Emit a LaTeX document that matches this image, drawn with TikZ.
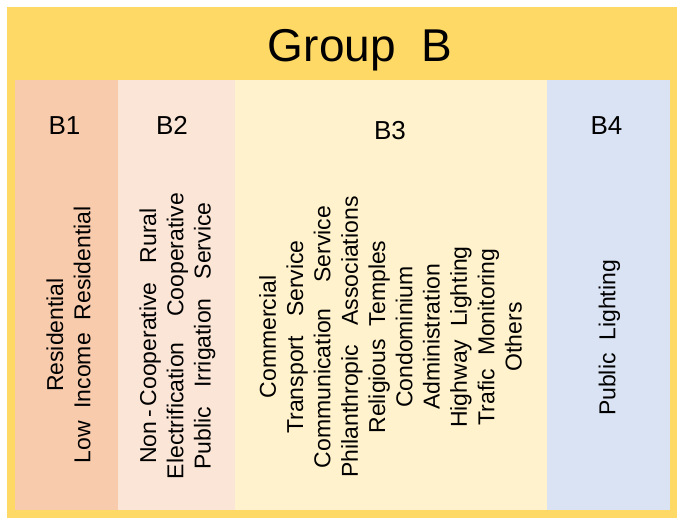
\documentclass[tikz,border=0pt]{standalone}
\usepackage{fontspec}
\setmainfont{Liberation Sans}
\definecolor{groupyellow}{HTML}{FFD966}
\definecolor{bonecol}{HTML}{F8CBAD}
\definecolor{btwocol}{HTML}{FBE5D6}
\definecolor{bthreecol}{HTML}{FFF2CC}
\definecolor{bfourcol}{HTML}{DAE3F3}
\begin{document}
\begin{tikzpicture}[x=1pt,y=-1pt,
        column/.style={inner sep=0pt, minimum height=430pt},
        head/.style={anchor=base, font=\fontsize{26}{30}\selectfont},
        items/.style={rotate=90, align=center, font=\fontsize{23}{27.3}\selectfont}]
        \useasboundingbox (0,0) rectangle (677,518);
        % Nodes
        \node[fill=groupyellow, inner sep=0pt, minimum width=670pt, minimum height=511pt] (group) at (342,262.5) {};
        \node[anchor=base, font=\fontsize{46}{50}\selectfont] (title) at (360,62) {Group~~B};
        \node[column, fill=bonecol, minimum width=103pt] (b1) at (66.5,295) {};
        \node[column, fill=btwocol, minimum width=117pt] (b2) at (176.5,295) {};
        \node[column, fill=bthreecol, minimum width=312pt] (b3) at (391,295) {};
        \node[column, fill=bfourcol, minimum width=123pt] (b4) at (608.5,295) {};
        % Labels
        \node[head] (b1head) at (64.5,135) {B1};
        \node[head] (b2head) at (172,135) {B2};
        \node[head] (b3head) at (390,140) {B3};
        \node[head] (b4head) at (606.5,135) {B4};
        % Members
        \node[items] (b1text) at (68.5,335) {Residential\\Low~~Income~~Residential};
        \node[items] (b2text) at (177.5,336) {Non\,-\,Cooperative~~~Rural\\Electrification~~~~Cooperative\\Public~~~Irrigation~~~Service};
        \node[items] (b3text) at (390.5,337) {Commercial\\Transport~~~Service\\Communication~~~~Service\\Philanthropic~~~Associations\\Religious~~Temples\\Condominium\\Administration\\Highway~~Lighting\\Trafic~~Monitoring\\Others};
        \node[items] (b4text) at (609.5,338) {Public~~Lighting};

    \end{tikzpicture}
\end{document}
